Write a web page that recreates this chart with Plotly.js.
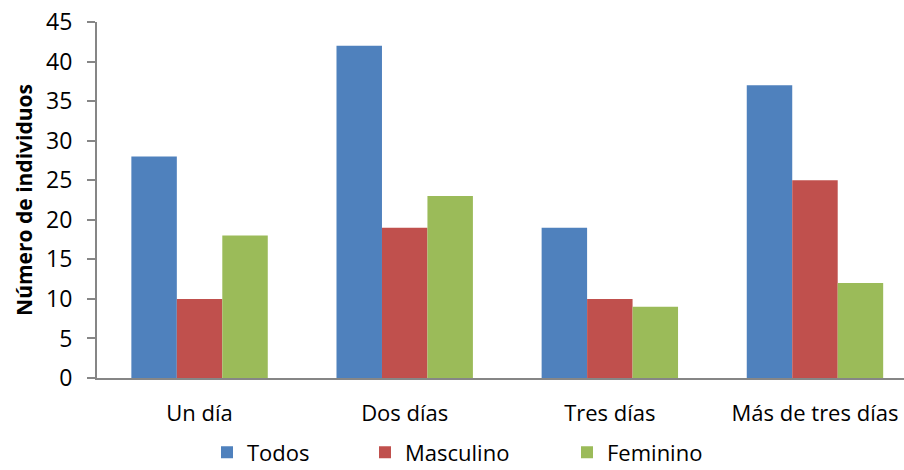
<!DOCTYPE html>
<html><head><meta charset="utf-8">
<script src="https://cdn.plot.ly/plotly-3.0.1.min.js"></script>
<style>body{margin:0;}#c{width:904px;height:470px;}</style>
</head><body><div id="c"></div>
<script>
var categories = ["Un día", "Dos días", "Tres días", "Más de tres días"];
var todos = [28, 42, 19, 37];
var masculino = [10, 19, 10, 25];
var feminino = [18, 23, 9, 12];
var seriesNames = ["Todos", "Masculino", "Feminino"];
var yTicks = [0, 5, 10, 15, 20, 25, 30, 35, 40, 45];

var colors = ["#4F81BD", "#C0504D", "#9BBB59"];
var legendIds = ["legend", "legend2", "legend3"];
var legendX = [207, 365, 567];
var vals = [todos, masculino, feminino];
var data = vals.map(function(v, i){
  return {type:'bar', x:categories, y:v, name:seriesNames[i], legend:legendIds[i],
    marker:{color:colors[i], line:{width:0}}};
});
var font = "'Open Sans', sans-serif";
var fs = 22;
var layout = {
  width:904, height:470,
  margin:{l:97, r:0, t:22, b:92},
  paper_bgcolor:'#fff', plot_bgcolor:'#fff',
  barmode:'group', bargap:0.335, bargroupgap:0,
  font:{family:font, size:fs, color:'#000'},
  xaxis:{range:[-0.5, 3.434], showline:true, linecolor:'#868686', linewidth:2,
    ticks:'', showgrid:false, zeroline:false, ticklabelstandoff:15,
    tickfont:{size:fs}},
  yaxis:{range:[0,45], tickvals:yTicks, showline:true, linecolor:'#868686', linewidth:2,
    ticks:'outside', ticklen:8, tickwidth:2, tickcolor:'#868686',
    showgrid:false, zeroline:false, tickfont:{size:23}, ticklabelstandoff:10,
    title:{text:'<b>Número de individuos</b>', font:{size:21}, standoff:8}},
  showlegend:true
};
legendIds.forEach(function(id, i){
  layout[id] = {orientation:'h', xref:'container', yref:'container', x:legendX[i]/904, y:0.082,
    xanchor:'left', yanchor:'top', font:{size:fs}, bgcolor:'rgba(0,0,0,0)'};
});
Plotly.newPlot('c', data, layout, {displayModeBar:false, staticPlot:true});
</script></body></html>
